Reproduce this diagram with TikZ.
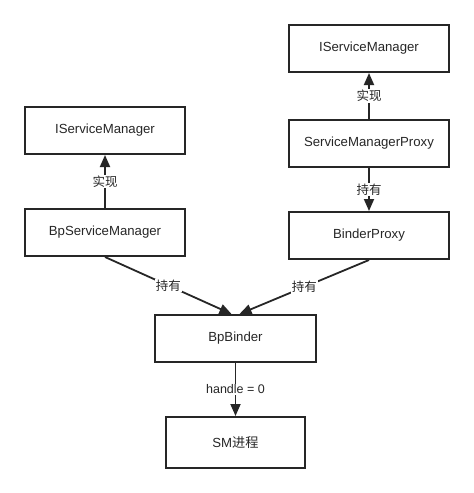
\documentclass[tikz,border=0pt]{standalone}
\usepackage{fontspec}
\setmainfont{Liberation Sans}
\newfontfamily\cjk{Noto Sans CJK SC}
\usetikzlibrary{arrows.meta}
\begin{document}
\begin{tikzpicture}[x=1pt,y=-1pt,
  box/.style={draw=black!85,line width=2pt,minimum width=160pt,minimum height=47pt,inner sep=0pt,
    font=\fontsize{13.2}{15}\selectfont,text=black!85},
  conn/.style={draw=black!85,line width=1.8pt,-{Triangle[length=12pt,width=10pt]}},
  lbl/.style={fill=white,inner sep=1pt,font=\fontsize{12.5}{14}\selectfont,text=black!85}]
\useasboundingbox (0,0) rectangle (474,493);
\node[box] (ism1) at (105,130.5) {IServiceManager};
\node[box] (bpsm) at (105,232.5) {BpServiceManager};
\node[box] (ism2) at (369,48.5) {IServiceManager};
\node[box] (smp) at (369,143) {ServiceManagerProxy};
\node[box] (bproxy) at (369,235.5) {BinderProxy};
\node[box,minimum width=161pt] (bpb) at (235.5,338.5) {BpBinder};
\node[box,minimum width=139pt,minimum height=51pt] (sm) at (235.5,442.5) {SM{\cjk 进程}};
\draw[conn] (bpsm.north) -- node[lbl]{\cjk 实现} (ism1.south);
\draw[conn] (smp.north) -- node[lbl]{\cjk 实现} (ism2.south);
\draw[conn] (smp.south) -- node[lbl]{\cjk 持有} (bproxy.north);
\draw[conn] (bpsm.south) -- node[lbl]{\cjk 持有} ([xshift=-4pt]bpb.north);
\draw[conn] (bproxy.south) -- node[lbl]{\cjk 持有} ([xshift=4pt]bpb.north);
\draw[conn] (bpb.south) -- node[lbl,pos=0.5]{handle = 0} (sm.north);
\end{tikzpicture}
\end{document}
